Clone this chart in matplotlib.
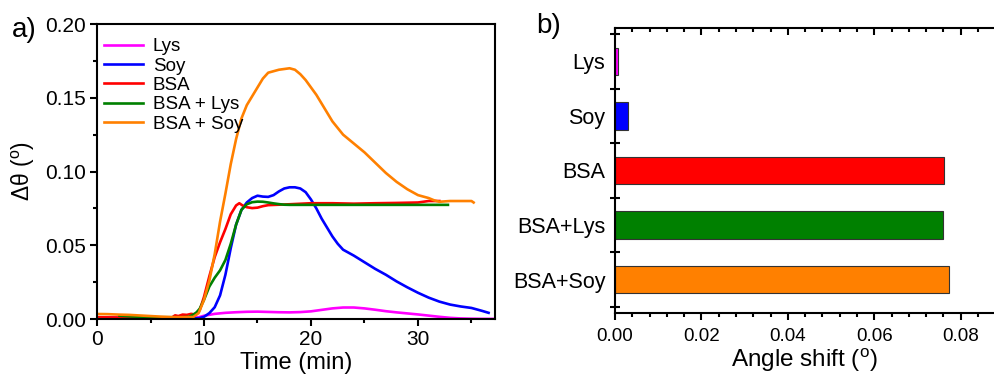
import matplotlib
matplotlib.use("Agg")
import matplotlib.pyplot as plt
from matplotlib.ticker import MultipleLocator

plt.rcParams['font.family'] = ['Liberation Sans', 'DejaVu Sans']
plt.rcParams['mathtext.fontset'] = 'custom'
plt.rcParams['mathtext.rm'] = 'Liberation Sans'
plt.rcParams['mathtext.it'] = 'Liberation Sans:italic'

# ---- panel a data ----
lys_t = [0, 2, 4, 6, 8, 9, 9.5, 10, 11, 12, 13, 14, 15, 16, 17, 18, 19, 20, 21, 22, 23, 24, 25, 26, 27, 28, 29, 30, 31, 32, 33, 34, 35, 36, 37.2]
lys_y = [0.0012, 0.0010, 0.0008, 0.0007, 0.0007, 0.0008, 0.0012, 0.0022, 0.0035, 0.0042, 0.0046, 0.0049, 0.0050, 0.0048, 0.0046, 0.0045, 0.0047, 0.0052, 0.0062, 0.0072, 0.0078, 0.0078, 0.0072, 0.0063, 0.0053, 0.0045, 0.0038, 0.0031, 0.0023, 0.0015, 0.0008, 0.0004, 0.0002, 0.0001, 0.0001]

soy_t = [0, 2, 4, 6, 8, 9, 9.5, 10, 10.5, 11, 11.5, 12, 12.5, 13, 13.5, 14, 14.5, 15, 15.5, 16, 16.5, 17, 17.5, 18, 18.5, 19, 19.5, 20, 20.5, 21, 21.5, 22, 22.5, 23, 24, 25, 26, 27, 28, 29, 30, 31, 32, 33, 34, 35, 36, 36.6]
soy_y = [0.0008, 0.0007, 0.0006, 0.0006, 0.0005, 0.0005, 0.0005, 0.0015, 0.004, 0.008, 0.016, 0.030, 0.048, 0.064, 0.074, 0.079, 0.082, 0.0836, 0.0830, 0.0828, 0.0840, 0.0865, 0.0885, 0.0893, 0.0893, 0.0885, 0.0860, 0.0810, 0.0750, 0.0680, 0.0620, 0.0560, 0.0510, 0.0470, 0.0430, 0.0385, 0.0340, 0.0300, 0.0255, 0.0215, 0.0178, 0.0145, 0.0118, 0.0098, 0.0085, 0.0075, 0.0055, 0.0042]

bsa_t = [0, 2, 4, 6, 7, 7.3, 7.6, 8, 8.4, 8.8, 9.2, 9.6, 10, 10.5, 11, 11.5, 12, 12.5, 13, 13.3, 13.6, 14, 14.5, 15, 15.5, 16, 17, 18, 20, 22, 24, 26, 28, 30, 31, 32]
bsa_y = [0.0012, 0.0010, 0.0008, 0.0008, 0.0010, 0.0025, 0.0020, 0.0030, 0.0028, 0.0035, 0.0030, 0.006, 0.015, 0.029, 0.042, 0.052, 0.061, 0.071, 0.077, 0.0785, 0.0770, 0.0758, 0.0752, 0.0755, 0.0765, 0.0772, 0.0775, 0.0778, 0.0785, 0.0785, 0.0782, 0.0785, 0.0787, 0.0790, 0.0800, 0.0800]

bsalys_t = [2.1, 3, 4, 5, 6, 7, 8, 8.6, 9, 9.3, 9.6, 10, 10.5, 11, 11.5, 12, 12.5, 13, 13.5, 14, 14.5, 15, 15.5, 16, 16.5, 17, 17.5, 18, 20, 25, 30, 32.8]
bsalys_y = [0.0023, 0.0018, 0.0015, 0.0012, 0.0012, 0.0012, 0.0012, 0.0015, 0.003, 0.0045, 0.007, 0.013, 0.022, 0.028, 0.033, 0.040, 0.051, 0.064, 0.074, 0.0778, 0.0792, 0.0796, 0.0795, 0.0790, 0.0784, 0.0779, 0.0775, 0.0774, 0.0774, 0.0774, 0.0774, 0.0774]

bsasoy_t = [0, 1, 2, 3, 4, 5, 6, 7, 8, 9, 9.5, 10, 10.5, 11, 11.5, 12, 12.5, 13, 13.5, 14, 14.5, 15, 15.5, 16, 16.5, 17, 17.5, 18, 18.5, 19, 19.5, 20, 20.5, 21, 21.5, 22, 23, 24, 25, 26, 27, 28, 29, 30, 30.5, 31, 31.5, 32, 33, 34, 35, 35.2]
bsasoy_y = [0.0034, 0.0033, 0.0030, 0.0028, 0.0024, 0.0020, 0.0016, 0.0013, 0.0012, 0.0014, 0.004, 0.013, 0.026, 0.044, 0.066, 0.085, 0.105, 0.122, 0.136, 0.145, 0.151, 0.157, 0.163, 0.167, 0.168, 0.169, 0.1695, 0.170, 0.169, 0.166, 0.162, 0.157, 0.152, 0.146, 0.140, 0.134, 0.125, 0.119, 0.113, 0.106, 0.099, 0.093, 0.088, 0.084, 0.083, 0.082, 0.0805, 0.0795, 0.0800, 0.0800, 0.0800, 0.0790]

series_labels = ['Lys', 'Soy', 'BSA', 'BSA + Lys', 'BSA + Soy']
series_colors = ['#FF00FF', '#0000FF', '#FF0000', '#008000', '#FF8000']

# ---- panel b data ----
bar_categories = ['Lys', 'Soy', 'BSA', 'BSA+Lys', 'BSA+Soy']
bar_values = [0.0008, 0.0030, 0.0761, 0.0758, 0.0773]

fig = plt.figure(figsize=(9.94, 3.77), dpi=100)

# Panel a
axa = fig.add_axes([0.0976, 0.1538, 0.4004, 0.7825])
data = [(lys_t, lys_y), (soy_t, soy_y), (bsa_t, bsa_y), (bsalys_t, bsalys_y), (bsasoy_t, bsasoy_y)]
for (t, y), lab, col in zip(data, series_labels, series_colors):
    axa.plot(t, y, color=col, lw=1.9, label=lab)
axa.set_xlim(0, 37.2)
axa.set_ylim(0, 0.20)
axa.xaxis.set_major_locator(MultipleLocator(10))
axa.xaxis.set_minor_locator(MultipleLocator(5))
axa.yaxis.set_major_locator(MultipleLocator(0.05))
axa.yaxis.set_minor_locator(MultipleLocator(0.025))
axa.yaxis.set_major_formatter(matplotlib.ticker.FormatStrFormatter('%.2f'))
axa.tick_params(which='both', direction='out', top=False, right=False, labelsize=15, width=1.5, pad=3)
axa.tick_params(which='major', length=5)
axa.tick_params(which='minor', length=3)
for s in axa.spines.values():
    s.set_linewidth(1.5)
axa.set_xlabel('Time (min)', fontsize=17, labelpad=2)
axa.set_ylabel(r'Δθ ($^{\rm o}$)', fontsize=16.5, labelpad=6)
leg = axa.legend(loc='upper left', bbox_to_anchor=(-0.018, 1.0), frameon=False, fontsize=13.5,
                 handlelength=2.1, handletextpad=0.5, labelspacing=0.12, borderaxespad=0.35)
fig.text(0.012, 0.955, 'a)', fontsize=20, va='top')

# Panel b
axb = fig.add_axes([0.6187, 0.1698, 0.3813, 0.7559])
ypos = list(range(1, len(bar_categories) + 1))
axb.barh(ypos, bar_values, height=0.5, color=series_colors, edgecolor='#333333', linewidth=0.8)
axb.set_ylim(5.61, 0.39)
axb.set_xlim(0, 0.0877)
axb.set_yticks(ypos)
axb.set_yticklabels(bar_categories, fontsize=15.5)
axb.set_yticks([0.5, 1.5, 2.5, 3.5, 4.5, 5.5], minor=True)
axb.tick_params(axis='y', which='major', length=0, pad=7)
axb.tick_params(axis='y', which='minor', direction='inout', length=7, width=1.5)
axb.xaxis.set_major_locator(MultipleLocator(0.02))
axb.xaxis.set_minor_locator(MultipleLocator(0.004))
axb.xaxis.set_major_formatter(matplotlib.ticker.FormatStrFormatter('%.2f'))
axb.tick_params(axis='x', which='both', direction='out', top=True, labelsize=13.5, width=1.5, pad=6)
axb.tick_params(axis='x', which='major', length=5)
axb.tick_params(axis='x', which='minor', length=3)
axb.spines['right'].set_visible(False)
for s in axb.spines.values():
    s.set_linewidth(1.5)
# top ticks point inward
for tl in axb.xaxis.get_major_ticks() + axb.xaxis.get_minor_ticks():
    tl.tick2line.set_marker(3)
axb.set_xlabel(r'Angle shift ($^{\rm o}$)', fontsize=17.5, labelpad=1)
fig.text(0.539, 0.965, 'b)', fontsize=20, va='top')

fig.savefig('out.png', dpi=100)
